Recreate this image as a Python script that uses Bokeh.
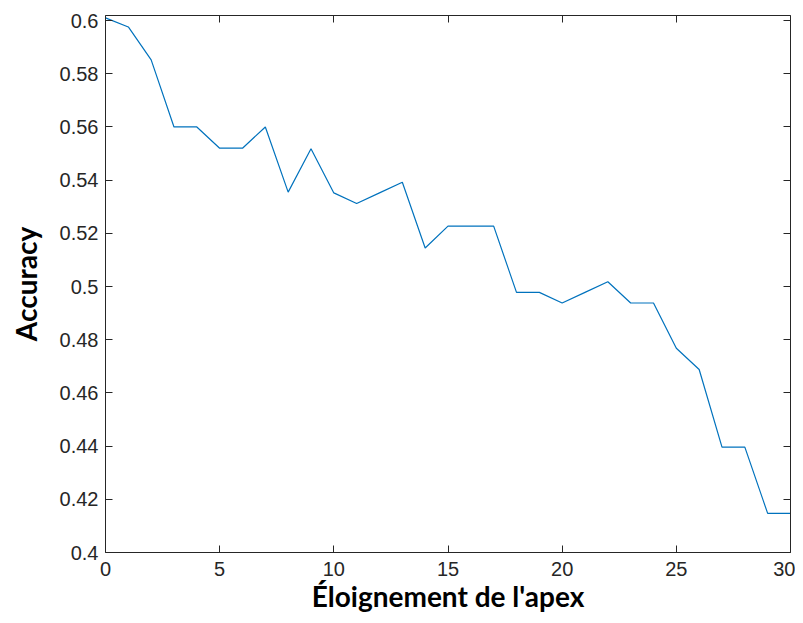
from bokeh.plotting import figure
from bokeh.models import LinearAxis, FixedTicker, Range1d
from bokeh.embed import file_html
from bokeh.resources import INLINE

# Data
x_vals = list(range(0, 31))
accuracy = [0.6010, 0.5976, 0.5852, 0.5600, 0.5600, 0.5520, 0.5520, 0.5600,
            0.5355, 0.5518, 0.5352, 0.5312, 0.5352, 0.5392, 0.5145, 0.5227,
            0.5227, 0.5227, 0.4978, 0.4978, 0.4938, 0.4978, 0.5018, 0.4938,
            0.4938, 0.4768, 0.4688, 0.4396, 0.4396, 0.4147, 0.4147]
x_ticks = [0, 5, 10, 15, 20, 25, 30]
y_ticks = [0.4, 0.42, 0.44, 0.46, 0.48, 0.5, 0.52, 0.54, 0.56, 0.58, 0.6]
y_tick_labels = ["0.4", "0.42", "0.44", "0.46", "0.48", "0.5", "0.52", "0.54", "0.56", "0.58", "0.6"]
x_label = "Éloignement de l'apex"
y_label = "Accuracy"

AX = "#262626"
TICK_FONT = "Liberation Sans"

p = figure(width=795, height=615, output_backend="svg", toolbar_location=None,
           x_range=Range1d(0, 30), y_range=Range1d(0.4, 0.6019),
           x_axis_label=x_label, y_axis_label=y_label)
p.min_border_left = 105
p.min_border_right = 5
p.min_border_top = 15
p.min_border_bottom = 61
p.grid.visible = False
p.outline_line_color = None
p.background_fill_color = "white"
p.border_fill_color = "white"

p.line(x_vals, accuracy, line_color="#0072BD", line_width=1.2)

p.xaxis.ticker = FixedTicker(ticks=x_ticks)
p.yaxis.ticker = FixedTicker(ticks=y_ticks)
p.yaxis.major_label_overrides = {t: l for t, l in zip(y_ticks, y_tick_labels)}

for ax in (p.xaxis[0], p.yaxis[0]):
    ax.axis_line_color = AX
    ax.axis_line_width = 1
    ax.major_tick_line_color = AX
    ax.major_tick_in = 7
    ax.major_tick_out = 0
    ax.minor_tick_line_color = None
    ax.major_label_text_font = TICK_FONT
    ax.major_label_text_font_size = "20px"
    ax.major_label_text_color = AX
    ax.axis_label_text_font = "Lato"
    ax.axis_label_text_font_style = "bold"
    ax.axis_label_text_font_size = "28px"
    ax.axis_label_text_color = "black"

p.xaxis.major_label_standoff = 9
p.yaxis.major_label_standoff = 7
p.xaxis.axis_label_standoff = 0
p.yaxis.axis_label_standoff = 14

for loc, tk in (("above", x_ticks), ("right", y_ticks)):
    a = LinearAxis(ticker=FixedTicker(ticks=tk), major_label_text_font_size="0px",
                   axis_line_color=AX, major_tick_line_color=AX,
                   major_tick_in=7, major_tick_out=0, minor_tick_line_color=None,
                   major_label_standoff=0)
    a.major_label_text_alpha = 0
    p.add_layout(a, loc)

open("out.html", "w").write(file_html(p, INLINE))
